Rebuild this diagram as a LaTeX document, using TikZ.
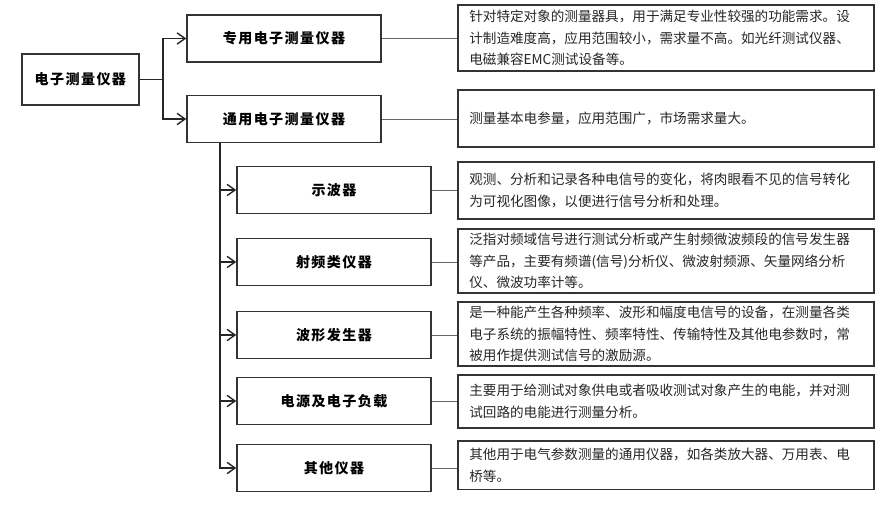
\documentclass[tikz,border=0pt]{standalone}
\usepackage{fontspec}
\setmainfont{Noto Sans CJK SC}
\newfontfamily\labfont{Noto Sans CJK SC}[LetterSpace=10]
\usetikzlibrary{arrows.meta,positioning}

\begin{document}
\begin{tikzpicture}[
  font=\fontsize{11.6}{18.5}\selectfont,
  >={Straight Barb[length=2.4mm, width=3.4mm]},
  box/.style={draw=black!80, line width=1.3pt, minimum width=5.82cm, minimum height=1.41cm, fill=white, font=\labfont\bfseries\fontsize{12}{14}\selectfont},
  desc/.style={draw=black!80, line width=1.3pt, text width=11.8cm, inner xsep=0.34cm, align=left, text=black!85},
  link/.style={draw=black!60, line width=0.8pt},
  arr/.style={->, line width=1.2pt, draw=black!85},
]
\useasboundingbox (0,0) rectangle (26.55,-15.12);
% root and the two main groups
\node[box, minimum width=3.51cm, minimum height=1.53cm] (root) at (2.41,-2.39) {电子测量仪器};
\node[box] (zy) at (8.52,-1.155) {专用电子测量仪器};
\node[box] (ty) at (8.52,-3.57) {通用电子测量仪器};
\coordinate (jn) at (4.89,-2.39);
\draw[arr, -] (root.east) -- (jn);
\draw[arr] (jn) |- (zy.west);
\draw[arr] (jn) |- (ty.west);
% general instruments: trunk + children
\coordinate (tr) at (6.6,-4.275);
\foreach \n/\y/\t in {sb/-5.7/示波器, sp/-7.86/射频类仪器, bx/-10.05/波形发生器, dy/-12.03/电源及电子负载, qt/-14.04/其他仪器}{
  \node[box] (\n) at (10.02,\y) {\t};
  \draw[arr] (tr) |- (\n.west);
}
% descriptions (right column)
\node[desc, minimum height=1.98cm] (d-zy) at (19.98,-1.14) {针对特定对象的测量器具，用于满足专业性较强的功能需求。设\\计制造难度高，应用范围较小，需求量不高。如光纤测试仪器、\\电磁兼容EMC测试设备等。};
\node[desc, minimum height=1.71cm] (d-ty) at (19.98,-3.555) {测量基本电参量，应用范围广，市场需求量大。};
\node[desc, minimum height=1.71cm] (d-sb) at (19.98,-5.715) {观测、分析和记录各种电信号的变化，将肉眼看不见的信号转化\\为可视化图像，以便进行信号分析和处理。};
\node[desc, minimum height=1.92cm] (d-sp) at (19.98,-7.83) {泛指对频域信号进行测试分析或产生射频微波频段的信号发生器\\等产品，主要有频谱(信号)分析仪、微波射频源、矢量网络分析\\仪、微波功率计等。};
\node[desc, minimum height=1.92cm] (d-bx) at (19.98,-10.02) {是一种能产生各种频率、波形和幅度电信号的设备，在测量各类\\电子系统的振幅特性、频率特性、传输特性及其他电参数时，常\\被用作提供测试信号的激励源。};
\node[desc, minimum height=1.59cm] (d-dy) at (19.98,-12.045) {主要用于给测试对象供电或者吸收测试对象产生的电能，并对测\\试回路的电能进行测量分析。};
\node[desc, minimum height=1.45cm] (d-qt) at (19.98,-13.96) {其他用于电气参数测量的通用仪器，如各类放大器、万用表、电\\桥等。};
% box -> description
\foreach \n in {zy,ty,sb,sp,bx,dy,qt}{
  \draw[link] (\n.east) -- (\n.east -| d-\n.west);
}
\end{tikzpicture}
\end{document}
